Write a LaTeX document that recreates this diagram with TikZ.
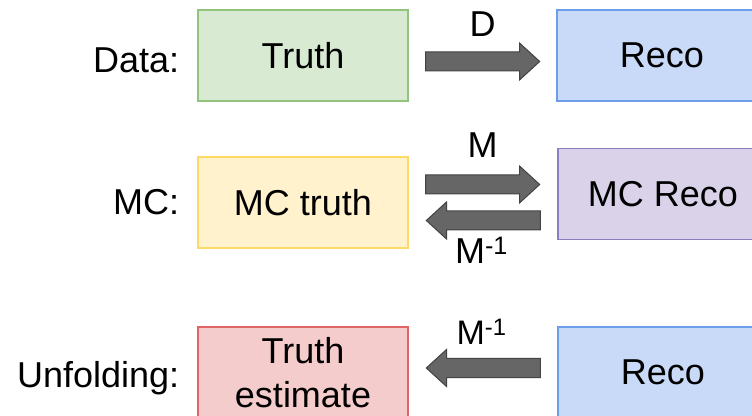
\documentclass[tikz,border=0pt]{standalone}
\usepackage{fontspec}
\setmainfont{Liberation Sans}
\usepackage{tikz}
\usetikzlibrary{positioning, shapes.arrows}

\definecolor{truthfill}{HTML}{D9EAD3}
\definecolor{truthline}{HTML}{93C47D}
\definecolor{recofill}{HTML}{C9DAF8}
\definecolor{recoline}{HTML}{6D9EEB}
\definecolor{mcfill}{HTML}{FFF2CC}
\definecolor{mcline}{HTML}{FFD966}
\definecolor{mcrecofill}{HTML}{D9D2E9}
\definecolor{mcrecoline}{HTML}{8E7CC3}
\definecolor{estfill}{HTML}{F4CCCC}
\definecolor{estline}{HTML}{E06666}
\definecolor{arrowfill}{HTML}{666666}
\definecolor{arrowline}{HTML}{434343}

\tikzset{
	box/.style={rectangle, draw, line width=1.2pt, minimum width=210pt, minimum height=91pt, inner sep=0pt, align=center, font=\fontsize{36}{44}\selectfont},
	bigarrow/.style={single arrow, draw=arrowline, fill=arrowfill, line width=1pt, minimum height=114pt, minimum width=37pt, text height=18pt, text depth=0pt, single arrow head extend=9pt, single arrow tip angle=85, inner sep=0pt},
	lbl/.style={inner sep=0pt, font=\fontsize{36}{40}\selectfont},
}

\begin{document}
\begin{tikzpicture}
	\useasboundingbox (0,0) rectangle (752pt,415pt);

	% rangee du haut : les donnees
	\node[box, fill=truthfill, draw=truthline] (truth) at (303pt,359.5pt) {Truth};
	\node[box, fill=recofill, draw=recoline] (reco) at (662pt,359.5pt) {Reco};
	\node[bigarrow] (d) at (477.5pt,353.5pt) {};
	\node[lbl, above = 15pt of d, xshift=5pt] (d-lbl) {D};
	\node[lbl, anchor=base east] (data) at ([xshift=-18pt, yshift=-17pt]truth.west) {Data:};

	% rangee du milieu : le MC
	\node[box, fill=mcfill, draw=mcline] (mctruth) at (303pt,212.5pt) {MC truth};
	\node[box, fill=mcrecofill, draw=mcrecoline] (mcreco) at (663pt,221pt) {MC Reco};
	\node[bigarrow] (m) at (477.5pt,230.5pt) {};
	\node[bigarrow, shape border rotate=180] (minv) at (488.5pt,194.5pt) {};
	\node[lbl, above = 17pt of m, xshift=5pt] (m-lbl) {M};
	\node[lbl, below = 6pt of minv, xshift=-7pt] (minv-lbl) {M\textsuperscript{-1}};
	\node[lbl, anchor=base east] (mc) at ([xshift=-18pt, yshift=-12.5pt]mctruth.west) {MC:};

	% rangee du bas : le depliage
	\node[box, fill=estfill, draw=estline] (est) at (303pt,42.5pt) {Truth\\estimate};
	\node[box, fill=recofill, draw=recoline] (reco2) at (663pt,42.5pt) {Reco};
	\node[bigarrow, shape border rotate=180] (unf) at (488.5pt,47pt) {};
	\node[lbl, above = 13pt of unf, xshift=-7pt, font=\fontsize{34}{38}\selectfont] (unf-lbl) {M\textsuperscript{-1}};
	\node[lbl, anchor=base east] (unfolding) at ([xshift=-18pt, yshift=-14.5pt]est.west) {Unfolding:};

\end{tikzpicture}
\end{document}
